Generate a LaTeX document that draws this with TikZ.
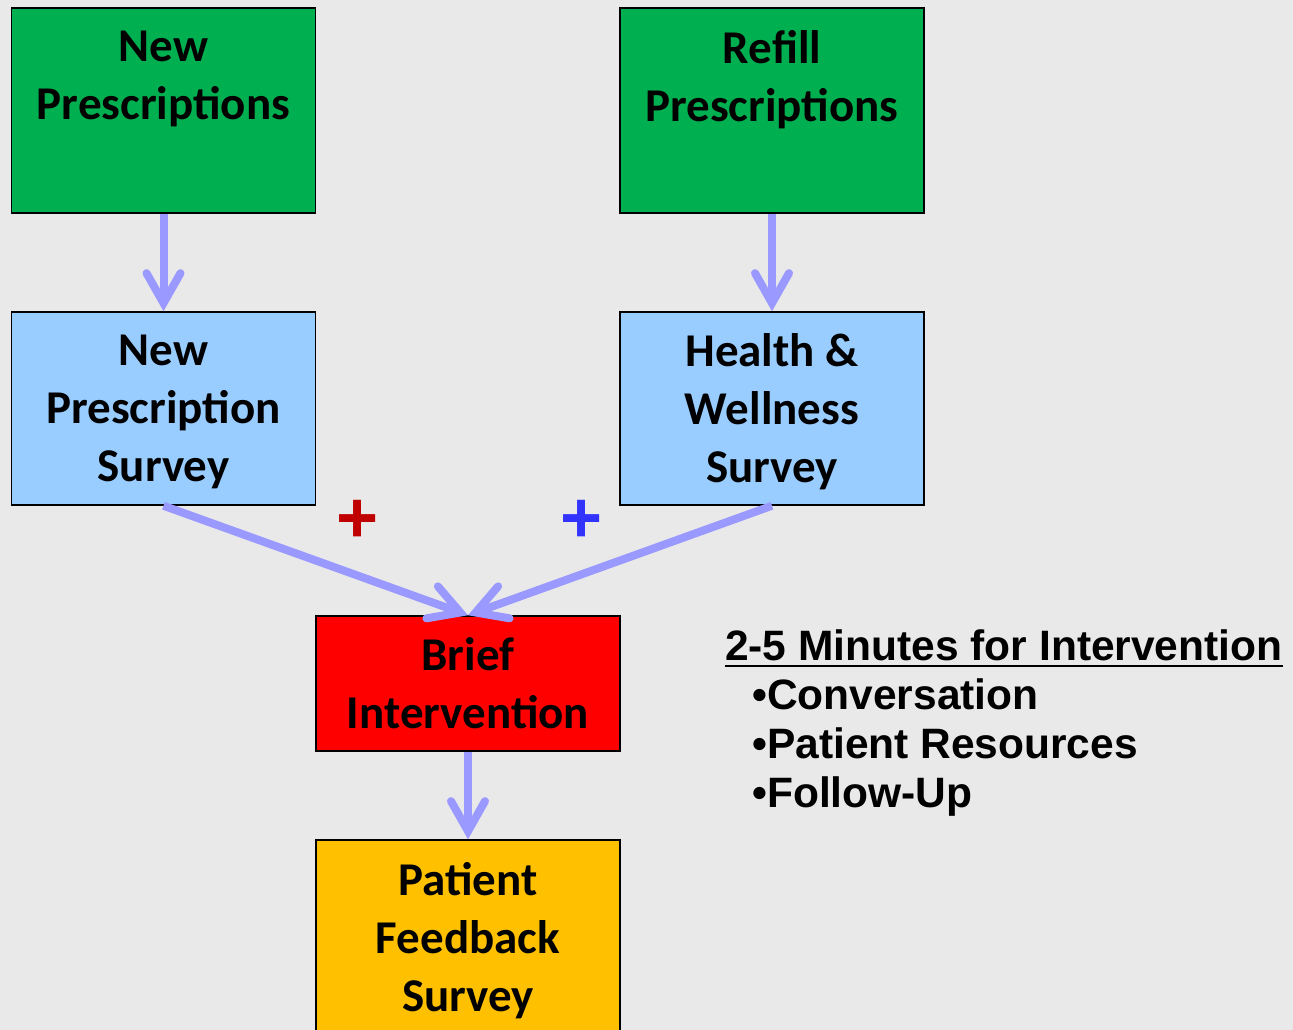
\documentclass[tikz,border=0pt]{standalone}
\usepackage{fontspec}
\setmainfont{Carlito}
\newfontfamily\arialfont{Liberation Sans}
\usetikzlibrary{arrows.meta,positioning}

\definecolor{bggray}{HTML}{E9E9E9}
\definecolor{rxgreen}{HTML}{00B050}
\definecolor{surveyblue}{HTML}{99CCFF}
\definecolor{briefred}{HTML}{FF0000}
\definecolor{feedgold}{HTML}{FFC000}
\definecolor{flowblue}{HTML}{9999FF}
\definecolor{plusred}{HTML}{C00000}
\definecolor{plusblue}{HTML}{3333FF}

% fixed height of the first line in a box
\newcommand\topstrut{\rule{0pt}{58.6pt}}

\begin{document}
\begin{tikzpicture}[x=1pt,y=-1pt,>={Straight Barb[length=30pt,width=34pt,line cap=round]}]
	\fill[bggray] (0,0) rectangle (1293,1030);
	\useasboundingbox (0,0) rectangle (1293,1030);
	\tikzset{box/.style={draw=black,line width=1.5pt,minimum width=304pt,inner sep=0pt,align=center,text depth=0pt,
		font=\fontsize{47}{58}\selectfont\bfseries,execute at begin node=\topstrut}}
	\tikzset{flow/.style={->,draw=flowblue,line width=8pt}}
	\tikzset{plus/.style={inner sep=0pt,font=\arialfont\bfseries\fontsize{72}{72}\selectfont}}
	\tikzset{note/.style={inner sep=0pt,anchor=base west,font=\arialfont\bfseries\fontsize{42.5}{51}\selectfont}}
	% the five boxes
	\node[box,fill=rxgreen,minimum height=205pt] (newrx) at (163.5,110.5) {New\\Prescriptions\\[12pt]};
	\node[box,fill=rxgreen,minimum height=205pt] (refill) at (772,110.5) {Refill\\Prescriptions\\[12pt]};
	\node[box,fill=surveyblue,minimum height=193pt] (newsurvey) at (163.5,408.5) {New\\Prescription\\Survey};
	\node[box,fill=surveyblue,minimum height=193pt] (hwsurvey) at (772,408.5) {Health \&\\Wellness\\Survey};
	\node[box,fill=briefred,minimum height=135pt] (brief) at (468,683.5) {Brief\\Intervention};
	\node[box,fill=feedgold,minimum height=193pt] (feedback) at (468,936.5) {Patient\\Feedback\\Survey};
	% plus signs
	\node[plus,text=plusred] (plusa) at (357.5,521) {+};
	\node[plus,text=plusblue] (plusb) at (581.5,521) {+};
	% arrows
	\draw[flow] (newrx) -- (newsurvey);
	\draw[flow] (refill) -- (hwsurvey);
	\draw[flow] (newsurvey.south) -- (brief.north);
	\draw[flow] (hwsurvey.south) -- (brief.north);
	\draw[flow] (brief) -- (feedback);
	% notes on the right
	\node[note] (head) at (725,660) {2-5 Minutes for Intervention};
	\draw[line width=2.5pt] ([yshift=-6pt]head.base west) -- ([yshift=-6pt]head.base east);
	\node[note] (conv) at (752,709) {•Conversation};
	\node[note] (res) at (752,758) {•Patient Resources};
	\node[note] (follow) at (752,807) {•Follow-Up};
\end{tikzpicture}
\end{document}
